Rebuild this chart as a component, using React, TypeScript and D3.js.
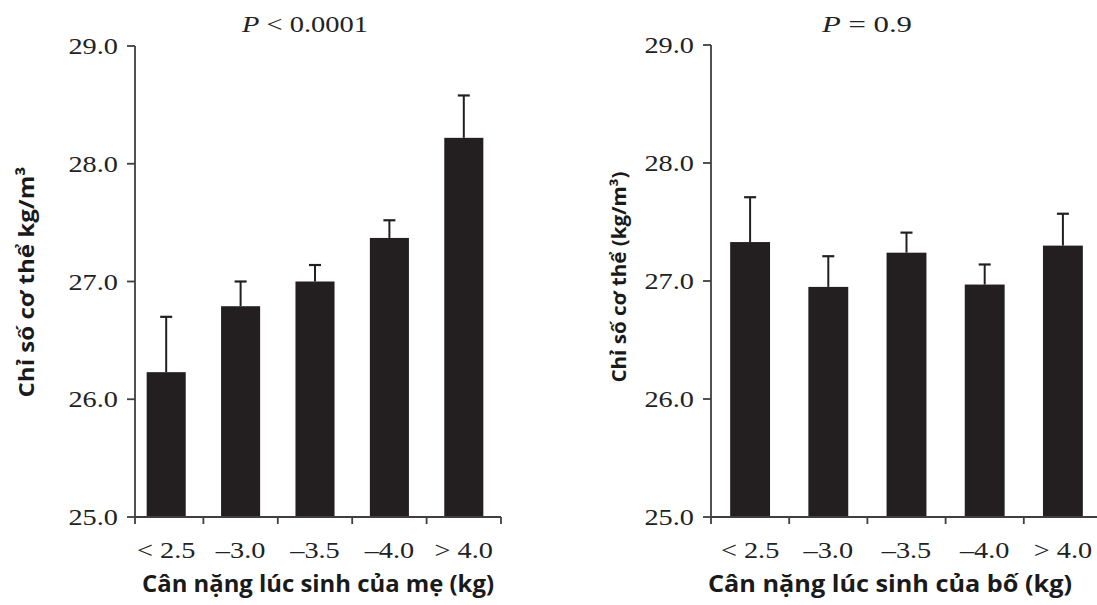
import React from "react";
import * as d3 from "d3";

const categories = ["< 2.5", "–3.0", "–3.5", "–4.0", "> 4.0"];
const motherMeans = [26.23, 26.79, 27.0, 27.37, 28.22];
const motherErr = [0.47, 0.21, 0.14, 0.15, 0.36];
const fatherMeans = [27.33, 26.95, 27.24, 26.97, 27.3];
const fatherErr = [0.38, 0.26, 0.17, 0.17, 0.27];
const yTicks = [25, 26, 27, 28, 29];
const yDomain = [25, 29];

const SERIF = "'Liberation Serif', 'Times New Roman', serif";
const SANS = "'Open Sans', 'Noto Sans', sans-serif";
const BAR = "#231f20";
const AXIS = "#3f3f3f";

type PanelProps = {
  means: number[];
  errs: number[];
  yAxisX: number;
  band: [number, number];
  yRange: [number, number];
  padding: number;
  axisEnd: number;
  title: string;
  titleX: number;
  titleW: number;
  xLabel: string;
  xLabelX: number;
  xLabelW: number;
  yLabel: string;
  yLabelX: number;
  yLabelY: number;
  yLabelW: number;
  yLabelSize: number;
  tickLabelEnd: number;
};

function Panel(p: PanelProps) {
  const x = d3
    .scaleBand<string>()
    .domain(categories)
    .range(p.band)
    .paddingInner(p.padding)
    .paddingOuter(p.padding / 2);
  const y = d3.scaleLinear().domain(yDomain).range(p.yRange);
  const step = x.step();
  const bw = x.bandwidth();
  const y0 = y(25);
  const boundaries = categories.map((c) => (x(c) as number) - (step * p.padding) / 2 + step);
  return (
    <g>
      <text
        x={p.titleX}
        y={32}
        textAnchor="middle"
        fontFamily={SERIF}
        fontSize={24}
        fill="#222"
        textLength={p.titleW}
        lengthAdjust="spacingAndGlyphs"
      >
        <tspan fontStyle="italic">P</tspan>
        {p.title}
      </text>
      {categories.map((c, i) => {
        const bx = x(c) as number;
        const cx = bx + bw / 2;
        const top = y(p.means[i]);
        const et = y(p.means[i] + p.errs[i]);
        return (
          <g key={c}>
            <rect x={bx} y={top} width={bw} height={y0 - top} fill={BAR} />
            <line x1={cx} x2={cx} y1={top} y2={et} stroke={BAR} strokeWidth={2} />
            <line x1={cx - 6} x2={cx + 6} y1={et} y2={et} stroke={BAR} strokeWidth={2.2} />
          </g>
        );
      })}
      <line x1={p.yAxisX} x2={p.yAxisX} y1={p.yRange[1]} y2={y0 + 7} stroke={AXIS} strokeWidth={1.8} />
      {yTicks.map((t) => (
        <g key={t}>
          <line x1={p.yAxisX - 8} x2={p.yAxisX} y1={y(t)} y2={y(t)} stroke={AXIS} strokeWidth={1.8} />
          <text
            transform={`translate(${p.tickLabelEnd},${y(t) + 8}) scale(1.18,1)`}
            textAnchor="end"
            fontFamily={SERIF}
            fontSize={24}
            fill="#222"
          >
            {t.toFixed(1)}
          </text>
        </g>
      ))}
      <line x1={p.yAxisX} x2={p.axisEnd} y1={y0} y2={y0} stroke={AXIS} strokeWidth={1.8} />
      {boundaries.map((bx, i) => (
        <line key={i} x1={bx} x2={bx} y1={y0} y2={y0 + 7} stroke={AXIS} strokeWidth={1.8} />
      ))}
      {categories.map((c) => (
        <text
          key={c}
          transform={`translate(${(x(c) as number) + bw / 2},558) scale(1.18,1)`}
          textAnchor="middle"
          fontFamily={SERIF}
          fontSize={24}
          fill="#222"
        >
          {c}
        </text>
      ))}
      <text
        x={p.xLabelX}
        y={592}
        textAnchor="middle"
        fontFamily={SANS}
        fontWeight={700}
        fontSize={23}
        fill="#1a1a1a"
        textLength={p.xLabelW}
        lengthAdjust="spacingAndGlyphs"
      >
        {p.xLabel}
      </text>
      <text
        transform={`translate(${p.yLabelX},${p.yLabelY}) rotate(-90)`}
        textAnchor="middle"
        fontFamily={SANS}
        fontWeight={700}
        fontSize={p.yLabelSize}
        fill="#1a1a1a"
        textLength={p.yLabelW}
        lengthAdjust="spacingAndGlyphs"
      >
        {p.yLabel}
      </text>
    </g>
  );
}

export default function App() {
  return (
    <svg
      width={1097}
      height={605}
      style={{ position: "absolute", left: 0, top: 0, background: "#fff" }}
    >
      <rect width={1097} height={605} fill="#fff" />
      <Panel
        means={motherMeans}
        errs={motherErr}
        yAxisX={135}
        band={[129, 501]}
        yRange={[517, 46]}
        padding={0.475}
        axisEnd={501}
        title=" < 0.0001"
        titleX={305}
        titleW={126}
        xLabel="Cân nặng lúc sinh của mẹ (kg)"
        xLabelX={318}
        xLabelW={352}
        yLabel="Chỉ số cơ thể kg/m³"
        yLabelX={34}
        yLabelY={282}
        yLabelW={231}
        yLabelSize={22}
        tickLabelEnd={118}
      />
      <Panel
        means={fatherMeans}
        errs={fatherErr}
        yAxisX={711}
        band={[711, 1102]}
        yRange={[517, 45]}
        padding={0.49}
        axisEnd={1102}
        title=" = 0.9"
        titleX={867}
        titleW={90}
        xLabel="Cân nặng lúc sinh của bố (kg)"
        xLabelX={890}
        xLabelW={364}
        yLabel="Chỉ số cơ thể (kg/m³)"
        yLabelX={626}
        yLabelY={277}
        yLabelW={211}
        yLabelSize={19}
        tickLabelEnd={694}
      />
    </svg>
  );
}
